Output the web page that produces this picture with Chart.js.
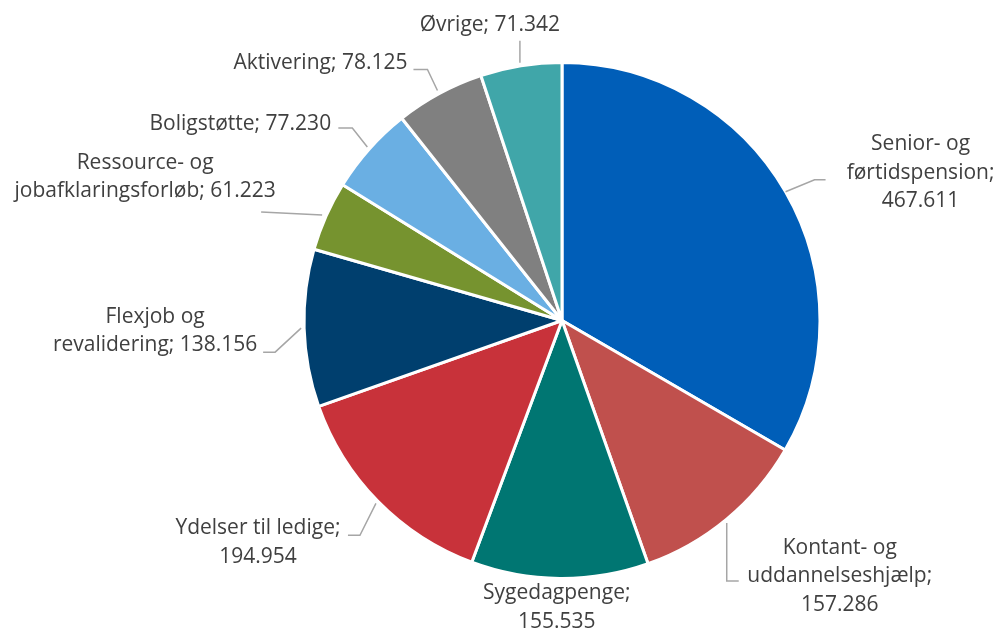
<!DOCTYPE html>
<html>
<head>
<meta charset="utf-8">
<script src="https://cdn.jsdelivr.net/npm/chart.js@4/dist/chart.umd.min.js"></script>
<style>
  html, body { margin: 0; padding: 0; background: #ffffff; }
  #wrap { width: 1000px; height: 633px; }
</style>
</head>
<body>
<div id="wrap"><canvas id="pie"></canvas></div>
<script>
// Categories, clockwise from 12 o'clock
const categories = [
  'Senior- og førtidspension',
  'Kontant- og uddannelseshjælp',
  'Sygedagpenge',
  'Ydelser til ledige',
  'Flexjob og revalidering',
  'Ressource- og jobafklaringsforløb',
  'Boligstøtte',
  'Aktivering',
  'Øvrige'
];
const values = [467611, 157286, 155535, 194954, 138156, 61223, 77230, 78125, 71342];
const colors = ['#005EB8', '#C0504D', '#007672', '#C8323A', '#003F6E', '#76932F', '#6AAFE3', '#808080', '#40A6A9'];

// where each label sits, relative to the point on the rim at the slice middle
// words = how many words go on each line, leader = bent line points
const labelLayout = [
  { text: [135, -19], words: [2, 1, 1], leader: [[0, 0], [29, -12], [40, -12]] },
  { text: [113, 57],  words: [2, 1, 1], leader: [[0, 4], [0, 62], [12, 62]] },
  { text: [-3, 29],   words: [1, 1],    leader: null },
  { text: [-120, 41], words: [3, 1],    leader: [[-2, 2], [-18, 34], [-30, 34]] },
  { text: [-149, 3],  words: [2, 2],    leader: [[-3, 0], [-29, 24], [-41, 24]] },
  { text: [-181, -39], words: [2, 2],   leader: [[-4, -1], [-65, -4]] },
  { text: [-129, -25], words: [2],      leader: [[-2, -2], [-17, -21], [-31, -21]] },
  { text: [-119, -30], words: [2],      leader: [[-2, -3], [-12, -24], [-26, -24]] },
  { text: [-31, -41], words: [2],       leader: [[-1, -3], [-1, -25]] }
];

// 467611 -> "467.611"
const fmt = v => String(v).replace(/\B(?=(\d{3})+(?!\d))/g, '.');

const pieLabels = {
  id: 'pieLabels',
  afterDatasetsDraw(chart) {
    const ctx = chart.ctx;
    const arcs = chart.getDatasetMeta(0).data;
    ctx.save();
    ctx.font = '21px "Open Sans", Lato, sans-serif';
    ctx.fillStyle = '#404040';
    ctx.textAlign = 'center';
    ctx.textBaseline = 'middle';
    arcs.forEach((arc, i) => {
      const p = arc.getProps(['x', 'y', 'startAngle', 'endAngle', 'outerRadius'], true);
      const mid = (p.startAngle + p.endAngle) / 2;
      const ex = p.x + Math.cos(mid) * p.outerRadius;
      const ey = p.y + Math.sin(mid) * p.outerRadius;
      const lay = labelLayout[i];

      if (lay.leader) {
        ctx.beginPath();
        ctx.strokeStyle = '#A6A6A6';
        ctx.lineWidth = 1.5;
        lay.leader.forEach(([dx, dy], k) => {
          if (k === 0) ctx.moveTo(ex + dx, ey + dy);
          else ctx.lineTo(ex + dx, ey + dy);
        });
        ctx.stroke();
      }

      const words = (categories[i] + '; ' + fmt(values[i])).split(' ');
      const lines = [];
      let n = 0;
      lay.words.forEach(c => { lines.push(words.slice(n, n + c).join(' ')); n += c; });
      const lh = 28.5;
      const cx = ex + lay.text[0];
      const cy = ey + lay.text[1];
      lines.forEach((ln, k) => {
        ctx.fillText(ln, cx, cy + (k - (lines.length - 1) / 2) * lh);
      });
    });
    ctx.restore();
  }
};

new Chart(document.getElementById('pie'), {
  type: 'pie',
  plugins: [pieLabels],
  data: {
    labels: categories,
    datasets: [{
      data: values,
      backgroundColor: colors,
      borderColor: '#ffffff',
      borderWidth: 3
    }]
  },
  options: {
    responsive: true,
    maintainAspectRatio: false,
    animation: false,
    layout: { padding: { top: 61, bottom: 53, left: 124, right: 0 } },
    plugins: {
      legend: { display: false },
      tooltip: { enabled: false }
    }
  }
});
</script>
</body>
</html>
